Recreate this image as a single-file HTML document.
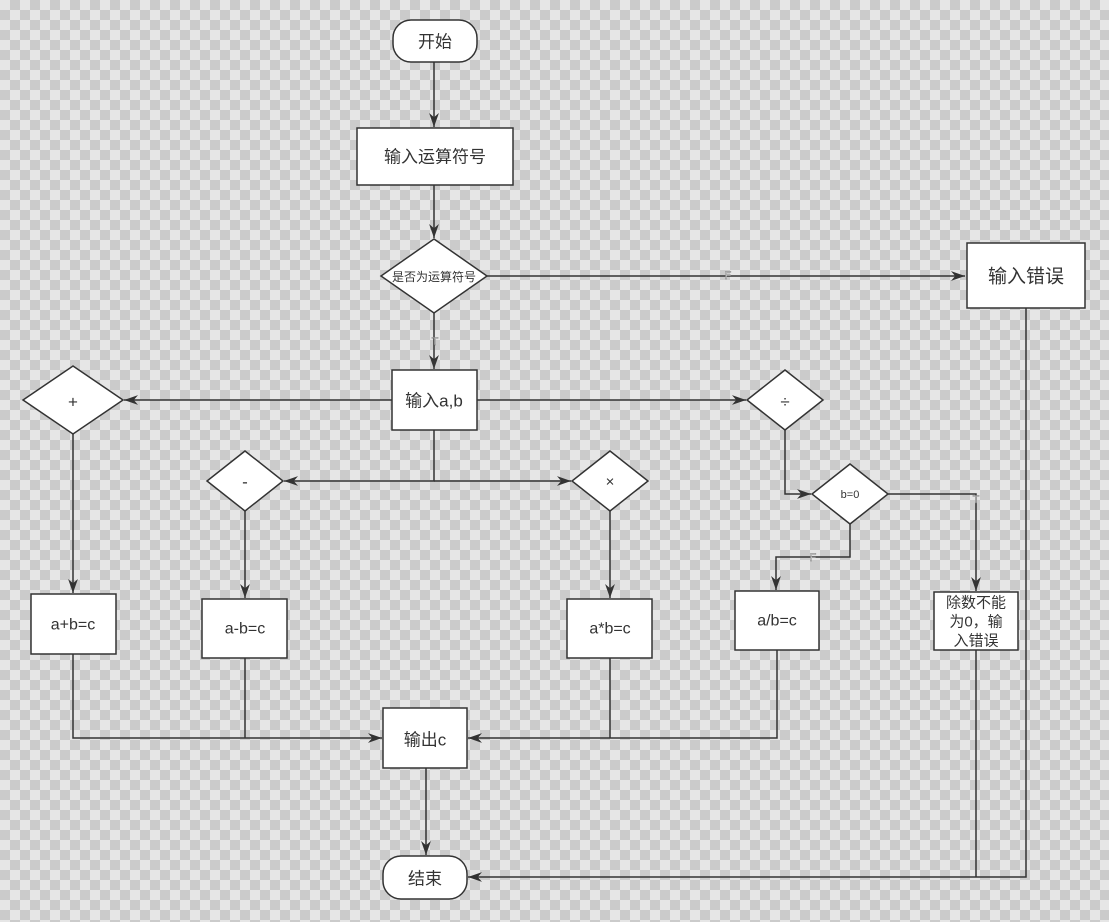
<!DOCTYPE html>
<html><head><meta charset="utf-8"><style>
html,body{margin:0;padding:0;}
body{width:1109px;height:922px;overflow:hidden;
background-color:#e6e6e6;
background-image:conic-gradient(#cbcbcb 25%,#e6e6e6 0 50%,#cbcbcb 0 75%,#e6e6e6 0);
background-size:20px 20px;}
svg{position:absolute;left:0;top:0;}
text{font-family:"Liberation Sans","Noto Sans CJK SC",sans-serif;fill:#333;text-anchor:middle;dominant-baseline:central;}
</style></head><body>
<svg width="1109" height="922" viewBox="0 0 1109 922">
<defs><marker id="a" viewBox="0 0 10 10" refX="10" refY="5" markerWidth="14" markerHeight="14" markerUnits="userSpaceOnUse" orient="auto"><path d="M0,1.5 L10,5 L0,8.5 L3,5 z" fill="#333"/></marker></defs>
<g stroke="#333" stroke-width="1.5" fill="none">
<path d="M434,62 V127" marker-end="url(#a)"/>
<path d="M434,185 V238" marker-end="url(#a)"/>
<path d="M487,276 H965" marker-end="url(#a)"/>
<path d="M434,313 V369" marker-end="url(#a)"/>
<path d="M392,400 H124" marker-end="url(#a)"/>
<path d="M477,400 H746" marker-end="url(#a)"/>
<path d="M434,430 V481 H284" marker-end="url(#a)"/>
<path d="M434,481 H571" marker-end="url(#a)"/>
<path d="M73,434 V593" marker-end="url(#a)"/>
<path d="M245,511 V598" marker-end="url(#a)"/>
<path d="M610,511 V598" marker-end="url(#a)"/>
<path d="M785,430 V494 H811" marker-end="url(#a)"/>
<path d="M888,494 H976 V591" marker-end="url(#a)"/>
<path d="M850,524 V557 H776 V590" marker-end="url(#a)"/>
<path d="M73,654 V738 H382" marker-end="url(#a)"/>
<path d="M245,658 V738"/>
<path d="M777,650 V738 H468" marker-end="url(#a)"/>
<path d="M610,658 V738"/>
<path d="M426,768 V855" marker-end="url(#a)"/>
<path d="M1026,308 V877 H468" marker-end="url(#a)"/>
<path d="M976,650 V877"/>
</g>
<g stroke="#333" stroke-width="1.5" fill="#fff">
<rect x="393" y="20" width="84" height="42" rx="18"/>
<rect x="357" y="128" width="156" height="57"/>
<path d="M434,239 L487,276 L434,313 L381,276 Z"/>
<rect x="967" y="243" width="118" height="65"/>
<rect x="392" y="370" width="85" height="60"/>
<path d="M73,366 L123,400 L73,434 L23,400 Z"/>
<path d="M785,370 L823,400 L785,430 L747,400 Z"/>
<path d="M245,451 L283,481 L245,511 L207,481 Z"/>
<path d="M610,451 L648,481 L610,511 L572,481 Z"/>
<path d="M850,464 L888,494 L850,524 L812,494 Z"/>
<rect x="31" y="594" width="85" height="60"/>
<rect x="202" y="599" width="85" height="59"/>
<rect x="567" y="599" width="85" height="59"/>
<rect x="735" y="591" width="84" height="59"/>
<rect x="934" y="592" width="84" height="58"/>
<rect x="383" y="708" width="84" height="60"/>
<rect x="383" y="856" width="84" height="43" rx="18"/>
</g>
<text x="435" y="42" font-size="17">开始</text>
<text x="435" y="157" font-size="17">输入运算符号</text>
<text x="434" y="277" font-size="12">是否为运算符号</text>
<text x="1026" y="277" font-size="19">输入错误</text>
<text x="434" y="401" font-size="17">输入a,b</text>
<text x="73" y="402" font-size="17">+</text>
<text x="785" y="402" font-size="17">÷</text>
<text x="245" y="482" font-size="17">-</text>
<text x="610" y="482" font-size="15">×</text>
<text x="850" y="495" font-size="11">b=0</text>
<text x="73" y="625" font-size="16">a+b=c</text>
<text x="245" y="629" font-size="16">a-b=c</text>
<text x="610" y="629" font-size="16">a*b=c</text>
<text x="777" y="621" font-size="16">a/b=c</text>
<text x="976" y="603" font-size="15">除数不能</text>
<text x="976" y="622" font-size="15">为0，输</text>
<text x="976" y="641" font-size="15">入错误</text>
<text x="425" y="740" font-size="17">输出c</text>
<text x="425" y="879" font-size="17">结束</text>
<g font-size="11"><text x="728" y="276" style="fill:#fff;stroke:#666;stroke-width:0.4">F</text><text x="435" y="342" style="fill:#fff;stroke:#666;stroke-width:0.4">T</text><text x="976" y="500" style="fill:#fff;stroke:#666;stroke-width:0.4">T</text><text x="813" y="558" style="fill:#fff;stroke:#666;stroke-width:0.4">F</text></g>
</svg>
</body></html>
